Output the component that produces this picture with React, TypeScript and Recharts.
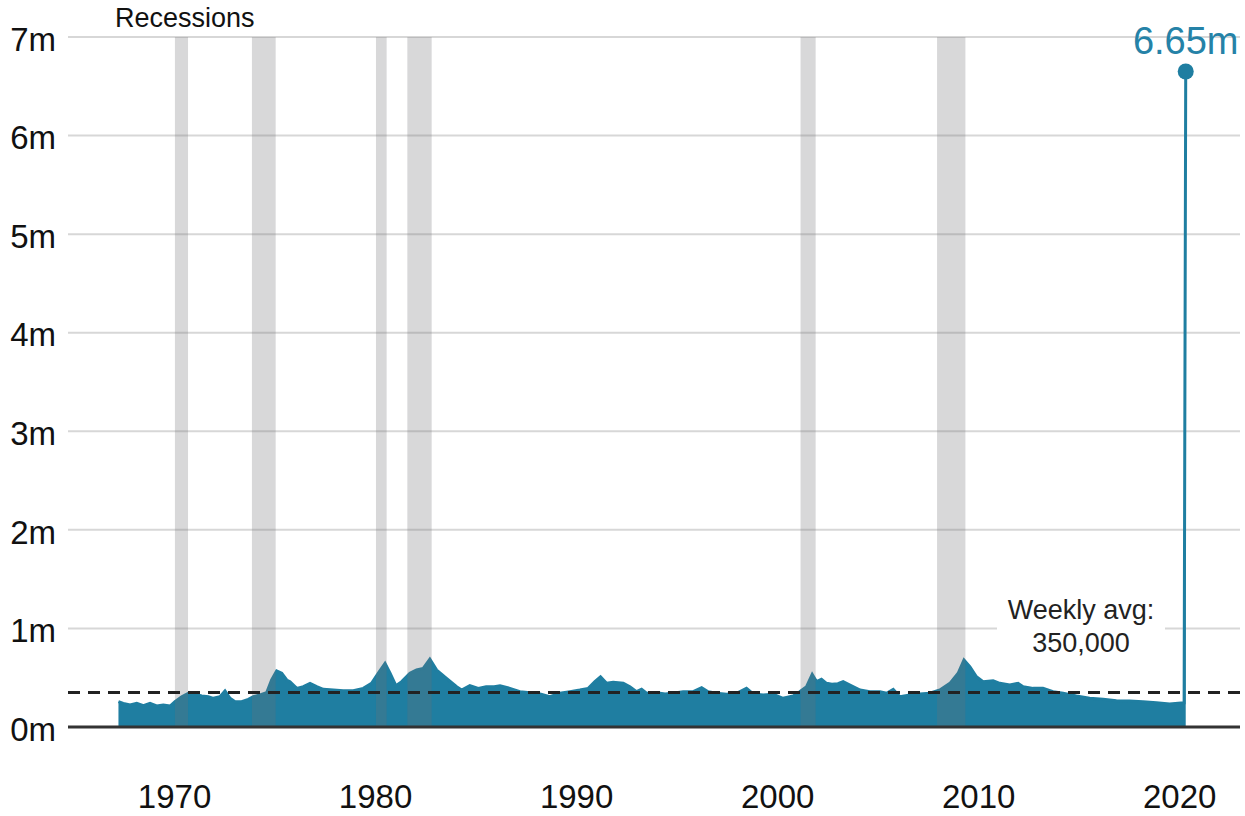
import React from 'react';
import { AreaChart, Area, XAxis, YAxis, CartesianGrid, ReferenceArea, ReferenceLine, ReferenceDot } from 'recharts';

const years = [
  1967.21, 1967.45, 1967.79, 1968.12, 1968.45, 1968.78, 1969.11, 1969.44, 1969.78, 1970.02,
  1970.36, 1970.69, 1971.02, 1971.35, 1971.68, 1971.93, 1972.26, 1972.51, 1972.76, 1973.01,
  1973.34, 1973.67, 1973.92, 1974.25, 1974.58, 1974.83, 1975.08, 1975.33, 1975.58, 1975.74,
  1976.08, 1976.41, 1976.74, 1977.07, 1977.4, 1977.9, 1978.39, 1978.89, 1979.39, 1979.8,
  1980.13, 1980.47, 1980.72, 1981.01, 1981.3, 1981.71, 1982.04, 1982.37, 1982.7, 1983.04,
  1983.53, 1984.03, 1984.28, 1984.69, 1985.11, 1985.5, 1985.9, 1986.19, 1986.68, 1987.18,
  1987.68, 1988.18, 1988.67, 1989.17, 1989.67, 1990.16, 1990.58, 1990.91, 1991.19, 1991.49,
  1991.82, 1992.32, 1992.65, 1992.98, 1993.23, 1993.48, 1993.98, 1994.4, 1994.8, 1995.3,
  1995.8, 1996.22, 1996.54, 1996.96, 1997.46, 1997.96, 1998.45, 1998.78, 1999.28, 1999.78,
  2000.27, 2000.77, 2001.1, 2001.44, 2001.72, 2001.94, 2002.18, 2002.43, 2002.7, 2003.0,
  2003.26, 2003.6, 2004.1, 2004.59, 2005.09, 2005.42, 2005.75, 2006.08, 2006.58, 2007.07,
  2007.57, 2008.07, 2008.57, 2008.98, 2009.27, 2009.56, 2009.89, 2010.22, 2010.72, 2011.05,
  2011.55, 2011.96, 2012.21, 2012.71, 2013.2, 2013.7, 2014.2, 2014.86, 2015.52, 2016.19,
  2016.85, 2017.51, 2018.17, 2018.84, 2019.5, 2019.92, 2020.22, 2020.3,
];

const claims = [
  0.257, 0.24, 0.223, 0.24, 0.216, 0.24, 0.213, 0.223, 0.213, 0.257,
  0.307, 0.342, 0.332, 0.314, 0.307, 0.291, 0.307, 0.365, 0.291, 0.257,
  0.257, 0.281, 0.307, 0.325, 0.348, 0.477, 0.568, 0.545, 0.477, 0.46,
  0.392, 0.409, 0.443, 0.409, 0.382, 0.375, 0.368, 0.368, 0.392, 0.443,
  0.545, 0.646, 0.545, 0.419, 0.46, 0.545, 0.578, 0.595, 0.687, 0.578,
  0.494, 0.409, 0.375, 0.419, 0.392, 0.409, 0.409, 0.419, 0.392, 0.358,
  0.348, 0.335, 0.307, 0.342, 0.358, 0.375, 0.392, 0.46, 0.51, 0.443,
  0.453, 0.443, 0.409, 0.358, 0.382, 0.342, 0.348, 0.335, 0.342, 0.358,
  0.358, 0.399, 0.358, 0.342, 0.332, 0.342, 0.392, 0.335, 0.325, 0.332,
  0.291, 0.314, 0.358, 0.409, 0.534, 0.46, 0.484, 0.443, 0.433, 0.44,
  0.46, 0.426, 0.375, 0.358, 0.358, 0.342, 0.382, 0.307, 0.325, 0.335,
  0.342, 0.375, 0.443, 0.545, 0.68, 0.612, 0.51, 0.46, 0.47, 0.443,
  0.426, 0.443, 0.409, 0.392, 0.392, 0.358, 0.342, 0.314, 0.291, 0.281,
  0.267, 0.264, 0.257, 0.247, 0.233, 0.24, 0.245, 6.65,
];

const recessionStarts = [1970.02, 1973.85, 1980.02, 1981.58, 2001.14, 2007.93];
const recessionEnds = [1970.67, 1975.03, 1980.55, 1982.79, 2001.89, 2009.34];

const xTicks = [1970, 1980, 1990, 2000, 2010, 2020];
const yTicks = [0, 1, 2, 3, 4, 5, 6, 7];
const weeklyAverage = 0.35;

const data = years.map((year, i) => ({ year, claims: claims[i] }));
const peakIndex = claims.indexOf(Math.max(...claims));
const peakYear = years[peakIndex];
const peakValue = claims[peakIndex];

const FONT = '"Liberation Sans", Arial, Helvetica, sans-serif';
const BLUE = '#1f7ea1';

export default function App() {
  return (
    <div style={{ position: 'absolute', left: 0, top: 0, width: 1245, height: 816, background: '#fff', fontFamily: FONT }}>
      <AreaChart
        width={1245}
        height={816}
        data={data}
        margin={{ top: 37, right: 5, left: 0, bottom: 0 }}
      >
        <CartesianGrid horizontal vertical={false} stroke="#d7d7d7" strokeWidth={2} />
        <XAxis
          dataKey="year"
          type="number"
          domain={[1964.7, 2023.0]}
          ticks={xTicks}
          allowDataOverflow
          axisLine={false}
          tickLine={false}
          tickSize={0}
          tickMargin={58}
          height={89}
          tick={{ fontSize: 33, fill: '#111', fontFamily: FONT }}
        />
        <YAxis
          type="number"
          domain={[0, 7]}
          ticks={yTicks}
          width={68}
          axisLine={false}
          tickLine={false}
          tickSize={0}
          tickMargin={12}
          tickFormatter={(v: number) => `${v}m`}
          tick={{ fontSize: 33, fill: '#111', fontFamily: FONT, dy: 2 }}
        />
        <Area
          type="linear"
          dataKey="claims"
          fill={BLUE}
          fillOpacity={1}
          stroke={BLUE}
          strokeWidth={3}
          isAnimationActive={false}
          dot={false}
          activeDot={false}
        />
        {recessionStarts.map((s, i) => (
          <ReferenceArea
            key={s}
            x1={s}
            x2={recessionEnds[i]}
            y1={0}
            y2={7}
            fill="#6f6f72"
            fillOpacity={0.27}
            stroke="none"
            zIndex={450}
          />
        ))}
        <ReferenceLine y={weeklyAverage} stroke="#222" strokeWidth={3} strokeDasharray="12 8" zIndex={460} />
        <ReferenceLine y={0} stroke="#333" strokeWidth={3} zIndex={460} />
        <ReferenceDot
          x={peakYear}
          y={peakValue}
          r={8}
          fill={BLUE}
          stroke="none"
          zIndex={470}
          label={{ value: `${peakValue}m`, position: 'top', offset: 10, fontSize: 38, fill: '#2582a7', fontFamily: FONT }}
        />
      </AreaChart>
      <div
        style={{
          position: 'absolute', left: 115, top: 5, fontSize: 27, lineHeight: '27px',
          color: '#111', whiteSpace: 'nowrap',
        }}
      >
        Recessions
      </div>
      <div
        style={{
          position: 'absolute', left: 997, top: 594, width: 168, textAlign: 'center',
          fontSize: 27, lineHeight: '33px', color: '#222', background: '#fff',
        }}
      >
        Weekly avg:
        <br />
        350,000
      </div>
    </div>
  );
}
